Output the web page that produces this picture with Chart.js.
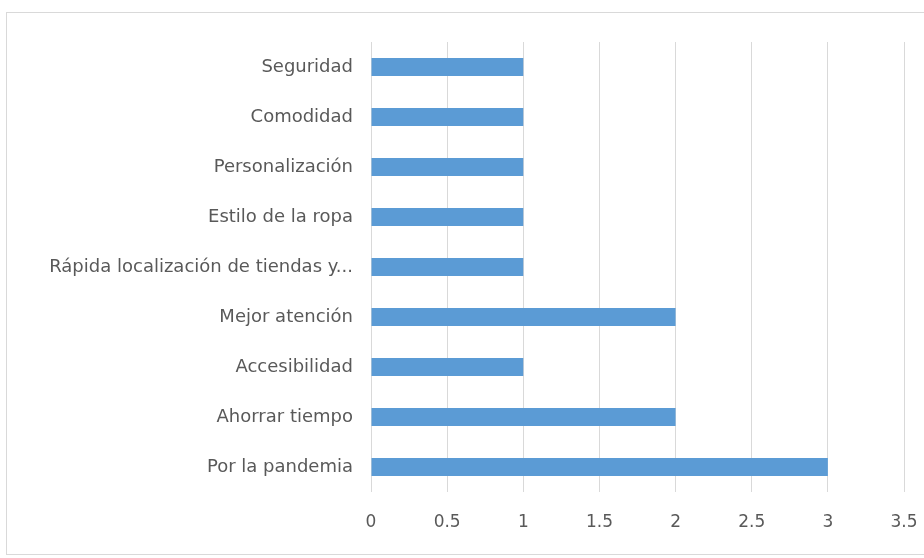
<!DOCTYPE html>
<html>
<head>
<meta charset="utf-8">
<script src="https://cdn.jsdelivr.net/npm/chart.js@4"></script>
<style>
  html, body { margin: 0; padding: 0; background: #ffffff; }
  #frame {
    position: absolute; left: 6px; top: 12px;
    width: 940px; height: 541px;
    border: 1px solid #d9d9d9;
  }
  #wrap { position: absolute; left: 0; top: 0; width: 924px; height: 558px; }
</style>
</head>
<body>
<div id="frame"></div>
<div id="wrap"><canvas id="motivosChart"></canvas></div>
<script>
// Motivos de compra en línea (número de respuestas)
const categorias = [
    'Seguridad',
    'Comodidad',
    'Personalización',
    'Estilo de la ropa',
    'Rápida localización de tiendas y...',
    'Mejor atención',
    'Accesibilidad',
    'Ahorrar tiempo',
    'Por la pandemia'
];
const respuestas = [1, 1, 1, 1, 1, 2, 1, 2, 3];

const ejeMin = 0;
const ejeMax = 3.5;
const ejePaso = 0.5;

const textColor = '#595959';
const gridColor = '#d9d9d9';
const barColor = '#5b9bd5';

Chart.defaults.font.family = "'DejaVu Sans', sans-serif";
Chart.defaults.color = textColor;

function createMotivosChart() {
    const ctx = document.getElementById('motivosChart');
    if (!ctx) return null;

    return new Chart(ctx, {
        type: 'bar',
        data: {
            labels: categorias,
            datasets: [{
                label: 'Respuestas',
                data: respuestas,
                backgroundColor: barColor,
                borderWidth: 0,
                barPercentage: 0.72,
                categoryPercentage: 0.5
            }]
        },
        options: {
            indexAxis: 'y',
            responsive: true,
            maintainAspectRatio: false,
            animation: false,
            layout: {
                padding: { top: 42, right: 20, left: 0, bottom: 0 }
            },
            plugins: {
                legend: { display: false },
                tooltip: { enabled: false }
            },
            scales: {
                x: {
                    min: ejeMin,
                    max: ejeMax,
                    ticks: {
                        stepSize: ejePaso,
                        padding: 20,
                        font: { size: 17 },
                        callback: function(value) {
                            return String(value);
                        }
                    },
                    grid: {
                        color: gridColor,
                        drawTicks: false
                    },
                    border: { display: false },
                    afterFit: function(scale) {
                        scale.height = 66;
                        scale.paddingLeft = 0;
                        scale.paddingRight = 0;
                    }
                },
                y: {
                    ticks: {
                        padding: 10,
                        font: { size: 18 }
                    },
                    grid: { display: false },
                    border: { display: false },
                    afterFit: function(scale) {
                        scale.width = 371;
                    }
                }
            }
        }
    });
}

createMotivosChart();
</script>
</body>
</html>
